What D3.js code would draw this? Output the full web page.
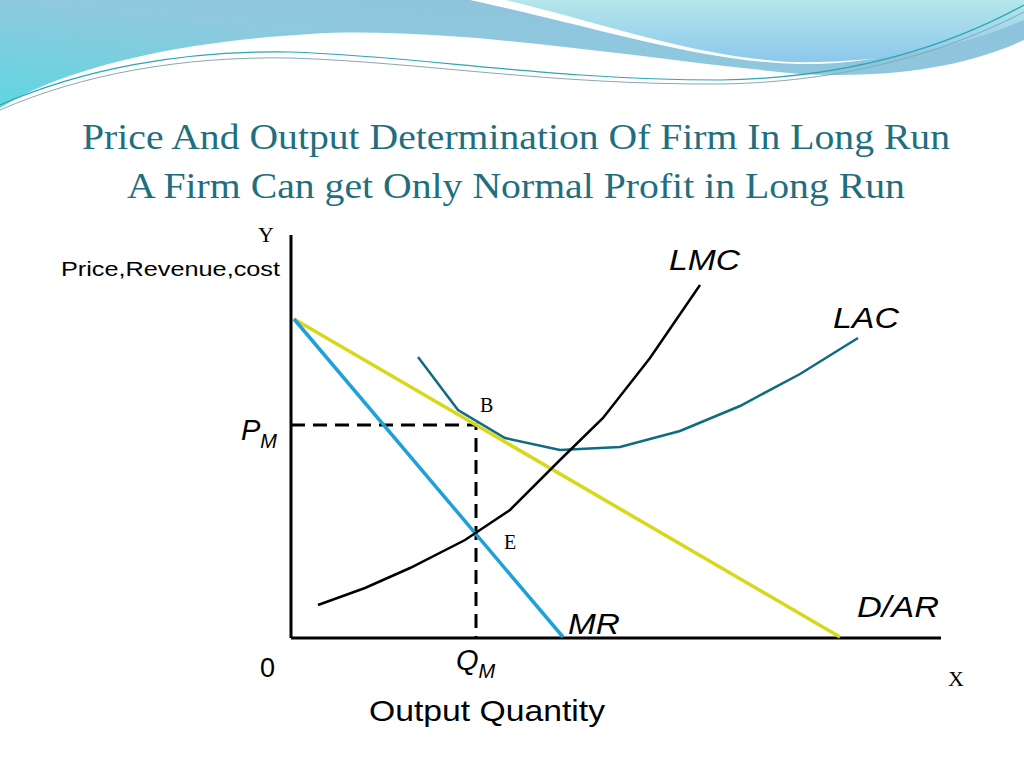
<!DOCTYPE html>
<html><head><meta charset="utf-8">
<script src="https://cdn.jsdelivr.net/npm/d3@7"></script>
<style>body{margin:0;background:#fff}</style>
</head><body>
<script>
// Data (x: output units, y: price units)
const lmcX = [27, 74, 119, 174, 219, 269, 312, 359, 409];
const lmcY = [33, 50, 70, 98, 128, 178, 220, 280, 353];
const lacX = [127, 167, 214, 269, 329, 389, 449, 509, 567];
const lacY = [281, 228, 200, 188, 191, 207, 232, 264, 300];
const arX = [3, 549];
const arY = [319, 1];
const mrX = [3, 272];
const mrY = [319, 1];
const qm = 185, pm = 213;

const W = 1024, H = 768;
const svg = d3.select("body").append("svg").attr("width", W).attr("height", H);

// decorative banner
const defs = svg.append("defs");
const g1 = defs.append("linearGradient").attr("id","g1").attr("x1","0").attr("y1","1").attr("x2","1").attr("y2","0");
g1.append("stop").attr("offset","0").attr("stop-color","#5fd6e0");
g1.append("stop").attr("offset","0.5").attr("stop-color","#8ec9de");
g1.append("stop").attr("offset","1").attr("stop-color","#8fc0dc");
const g2 = defs.append("linearGradient").attr("id","g2").attr("x1","0").attr("y1","0").attr("x2","0").attr("y2","1");
g2.append("stop").attr("offset","0").attr("stop-color","#b4e6ea");
g2.append("stop").attr("offset","1").attr("stop-color","#8cc8ec");
svg.append("path").attr("d","M0,0 L1024,0 L1024,40 C960,70 880,78 800,74 C650,60 450,25 310,34 C170,42 60,70 0,108 Z").attr("fill","url(#g1)");
svg.append("path").attr("d","M470,0 L1024,0 L1024,12 C960,40 880,66 800,64 C700,62 600,28 470,0 Z").attr("fill","#fff");
svg.append("path").attr("d","M505,0 L1024,0 L1024,20 C960,48 880,64 790,62 C690,56 600,22 505,0 Z").attr("fill","url(#g2)");
svg.append("path").attr("d","M0,105 C80,70 180,50 290,52 C420,56 550,80 720,80 C860,78 960,40 1024,5").attr("fill","none").attr("stroke","#2aa6b4").attr("stroke-width",1.2);
svg.append("path").attr("d","M0,110 C80,75 180,56 290,58 C420,62 550,85 720,84 C860,82 960,45 1024,12").attr("fill","none").attr("stroke","#8aa8b0").attr("stroke-width",1);

// title
const tc = "#1f6f80";
svg.append("text").attr("x",82).attr("y",149).attr("font-family","Liberation Serif").attr("font-size",36).attr("fill",tc).attr("textLength",868).attr("lengthAdjust","spacingAndGlyphs").text("Price And Output Determination Of Firm In Long Run");
svg.append("text").attr("x",127).attr("y",198).attr("font-family","Liberation Serif").attr("font-size",36).attr("fill",tc).attr("textLength",778).attr("lengthAdjust","spacingAndGlyphs").text("A Firm Can get Only Normal Profit in Long Run");

const x = d3.scaleLinear().domain([0, 550]).range([291, 841]);
const y = d3.scaleLinear().domain([0, 400]).range([638, 238]);
const line = d3.line().x(d=>x(d[0])).y(d=>y(d[1]));
const zip = (a,b)=>a.map((v,i)=>[v,b[i]]);

// axes
svg.append("line").attr("x1",x(0)).attr("y1",y(403)).attr("x2",x(0)).attr("y2",y(0)).attr("stroke","#000").attr("stroke-width",3);
svg.append("line").attr("x1",x(0)).attr("y1",y(0)).attr("x2",x(650)).attr("y2",y(0)).attr("stroke","#000").attr("stroke-width",3);

// dashed
svg.append("path").attr("d",line([[0,pm],[qm,pm],[qm,0]])).attr("fill","none").attr("stroke","#000").attr("stroke-width",3).attr("stroke-dasharray","14,8");

svg.append("path").attr("d",line(zip(arX,arY))).attr("fill","none").attr("stroke","#d8d81a").attr("stroke-width",3.5);
svg.append("path").attr("d",line(zip(mrX,mrY))).attr("fill","none").attr("stroke","#1ea0d8").attr("stroke-width",3.5);
svg.append("path").attr("d",line(zip(lacX,lacY))).attr("fill","none").attr("stroke","#0e6b80").attr("stroke-width",2.5);
svg.append("path").attr("d",line(zip(lmcX,lmcY))).attr("fill","none").attr("stroke","#000").attr("stroke-width",2.5);

const sans = "Liberation Sans", serif = "Liberation Serif";
function t(px,py,s,size,fam,style,len){const e=svg.append("text").attr("x",px).attr("y",py).attr("font-size",size).attr("font-family",fam).attr("font-style",style||"normal").text(s); if(len) e.attr("textLength",len).attr("lengthAdjust","spacingAndGlyphs"); return e;}
t(258,242,"Y",22,serif);
t(61,276,"Price,Revenue,cost",21,sans,null,219);
t(669,270,"LMC",29,sans,"italic",71);
t(833,328,"LAC",29,sans,"italic",66);
t(857,617,"D/AR",29,sans,"italic",82);
t(568,634,"MR",29,sans,"italic",52);
t(480,412,"B",20,serif);
t(504,549,"E",20,serif);
const p = t(241,440,"P",29,sans,"italic"); p.append("tspan").attr("font-size",20).attr("dy",8).text("M");
const q = t(456,670,"Q",29,sans,"italic"); q.append("tspan").attr("font-size",20).attr("dy",8).text("M");
t(260,677,"0",27,sans);
t(948,686,"X",22,serif);
t(369,721,"Output Quantity",29,sans,null,236);
</script>
</body></html>
